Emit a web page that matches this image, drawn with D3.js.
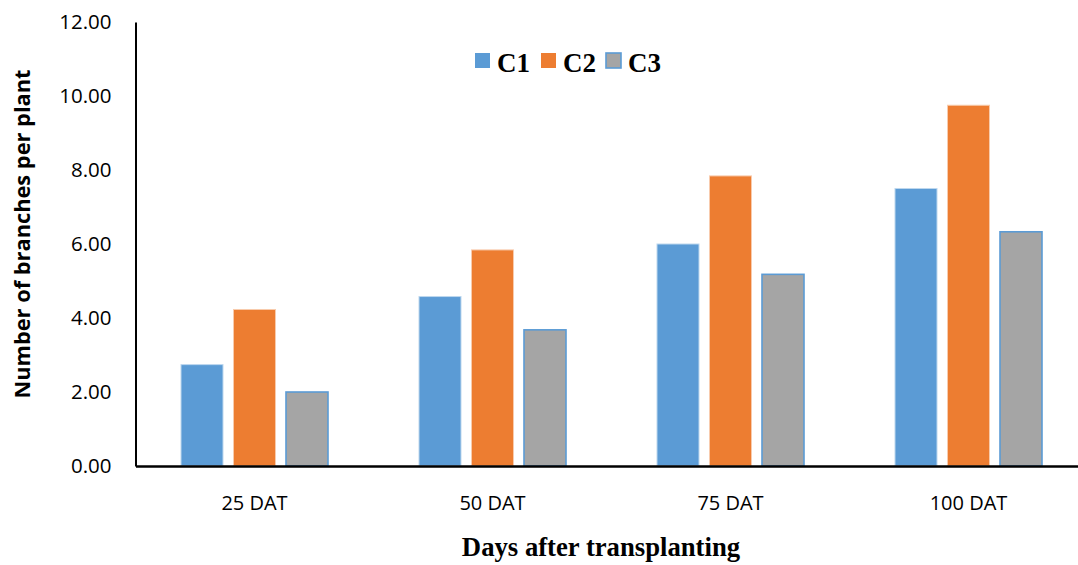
<!DOCTYPE html>
<html>
<head>
<meta charset="utf-8">
<script src="https://cdn.jsdelivr.net/npm/d3@7"></script>
<style>
  html, body { margin: 0; padding: 0; background: #fff; }
  svg { display: block; }
</style>
</head>
<body>
<svg id="chart" width="1078" height="565"></svg>
<script>
// Number of branches per plant at four stages after transplanting
const categories = ["25 DAT", "50 DAT", "75 DAT", "100 DAT"];
const seriesNames = ["C1", "C2", "C3"];
const c1Values = [2.74, 4.58, 6.00, 7.50];
const c2Values = [4.23, 5.84, 7.84, 9.75];
const c3Values = [2.00, 3.68, 5.18, 6.33];
const yTicks = [0, 2, 4, 6, 8, 10, 12];

const colors = { C1: "#5B9BD5", C2: "#ED7D31", C3: "#A5A5A5" };
const strokes = { C1: "#BDD7EE", C2: "#F8CBAD", C3: "#5B9BD5" };

const seriesValues = { C1: c1Values, C2: c2Values, C3: c3Values };
const rows = categories.map((cat, i) => ({
  cat,
  values: seriesNames.map(s => ({ key: s, value: seriesValues[s][i] }))
}));

const svg = d3.select("#chart");
const plotLeft = 135.5, plotTop = 22, plotBottom = 466;

const x0 = d3.scaleBand().domain(categories).range([plotLeft, plotLeft + 4 * 238]).padding(0);
const x1 = d3.scaleBand().domain(seriesNames).range([-73.5, 73.5]).paddingInner(0.2).paddingOuter(0);
const y = d3.scaleLinear().domain([0, 12]).range([plotBottom, plotTop]);

// Bars
const groups = svg.append("g").selectAll("g")
  .data(rows).join("g")
  .attr("transform", d => `translate(${x0(d.cat) + x0.bandwidth() / 2},0)`);

groups.selectAll("rect")
  .data(d => d.values).join("rect")
  .attr("x", d => x1(d.key))
  .attr("width", x1.bandwidth())
  .attr("y", d => y(d.value))
  .attr("height", d => y(0) - y(d.value))
  .attr("fill", d => colors[d.key])
  .attr("stroke", d => strokes[d.key])
  .attr("stroke-width", d => d.key === "C3" ? 1.6 : 1);

// Y axis
const yAxis = d3.axisLeft(y).tickValues(yTicks).tickSize(0).tickPadding(24)
  .tickFormat(d3.format(".2f"));
const yg = svg.append("g").attr("transform", `translate(${plotLeft},0)`).call(yAxis);
yg.select(".domain").attr("stroke", "#000").attr("stroke-width", 2);
yg.selectAll("text")
  .attr("font-family", "'Open Sans', sans-serif")
  .attr("font-size", 20.5)
  .attr("fill", "#000");

// X axis
const xAxis = d3.axisBottom(x0).tickSize(0).tickPadding(30);
const xg = svg.append("g").attr("transform", `translate(0,${plotBottom})`).call(xAxis);
xg.select(".domain").attr("stroke", "#000").attr("stroke-width", 2.4);
xg.selectAll("text")
  .attr("font-family", "'Open Sans', sans-serif")
  .attr("font-size", 20)
  .attr("fill", "#000");

// Axis titles
svg.append("text")
  .attr("transform", `translate(30,234) rotate(-90)`)
  .attr("text-anchor", "middle")
  .attr("font-family", "'Open Sans', sans-serif")
  .attr("font-weight", "bold")
  .attr("font-size", 21.8)
  .attr("fill", "#000")
  .text("Number of branches per plant");

svg.append("text")
  .attr("x", 601)
  .attr("y", 556)
  .attr("text-anchor", "middle")
  .attr("font-family", "'Liberation Serif', 'Times New Roman', serif")
  .attr("font-weight", "bold")
  .attr("font-size", 26.7)
  .attr("fill", "#000")
  .text("Days after transplanting");

// Legend
const legendX = [475, 541, 606];
const legend = svg.append("g").selectAll("g")
  .data(seriesNames).join("g")
  .attr("transform", (d, i) => `translate(${legendX[i]},53)`);
legend.append("rect")
  .attr("width", 15).attr("height", 15)
  .attr("fill", d => colors[d])
  .attr("stroke", d => d === "C3" ? colors.C1 : "none")
  .attr("stroke-width", 1.6);
legend.append("text")
  .attr("x", 22).attr("y", 18.5)
  .attr("font-family", "'Liberation Serif', 'Times New Roman', serif")
  .attr("font-weight", "bold")
  .attr("font-size", 27)
  .attr("fill", "#000")
  .text(d => d);
</script>
</body>
</html>
